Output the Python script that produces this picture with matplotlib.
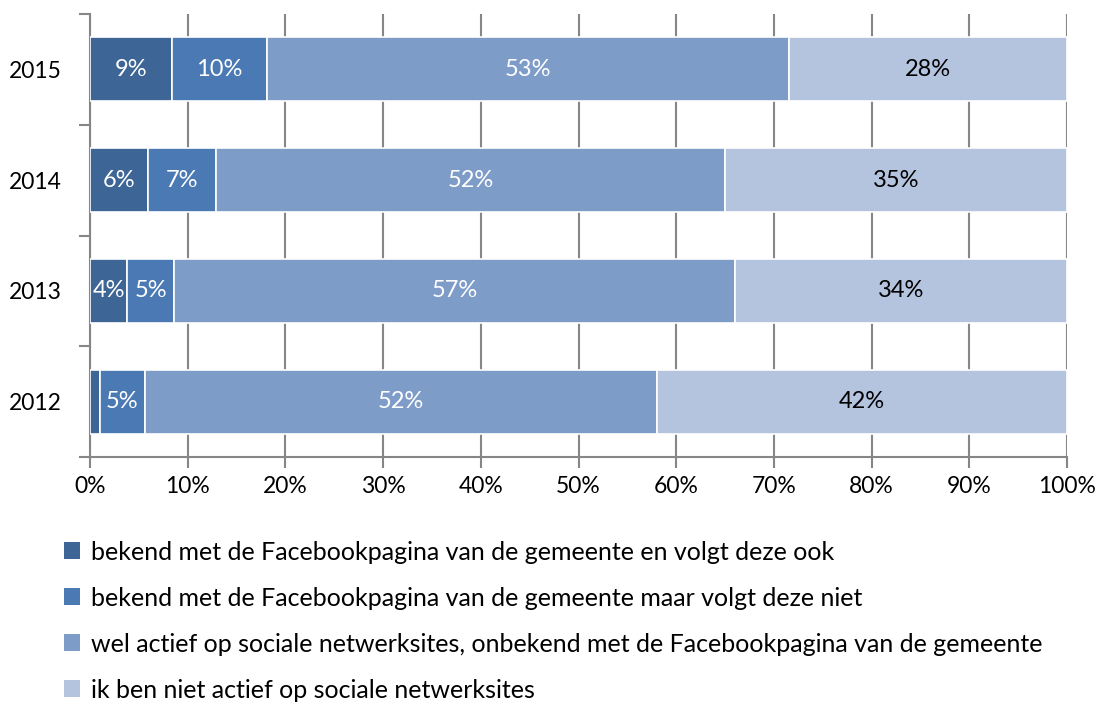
import matplotlib
matplotlib.use("Agg")
import matplotlib.pyplot as plt
from matplotlib.patches import Patch
import numpy as np

plt.rcParams['font.family'] = ['Lato', 'DejaVu Sans']

years = ["2012", "2013", "2014", "2015"]
series_names = [
    "bekend met de Facebookpagina van de gemeente en volgt deze ook",
    "bekend met de Facebookpagina van de gemeente maar volgt deze niet",
    "wel actief op sociale netwerksites, onbekend met de Facebookpagina van de gemeente",
    "ik ben niet actief op sociale netwerksites",
]
follows = [1.0, 3.8, 5.9, 8.4]
knows_not_follow = [4.6, 4.8, 7.0, 9.7]
active_unknown = [52.4, 57.4, 52.1, 53.4]
not_active = [42.0, 34.0, 35.0, 28.5]
labels = [
    ["", "4%", "6%", "9%"],
    ["5%", "5%", "7%", "10%"],
    ["52%", "57%", "52%", "53%"],
    ["42%", "34%", "35%", "28%"],
]
colors = ["#3D6595", "#4A79B3", "#7E9CC8", "#B4C3DE"]
text_colors = ["white", "white", "white", "black"]

fig = plt.figure(figsize=(11, 7.04), dpi=100)
ax = fig.add_axes([90/1100, 1-457/704, (1067-90)/1100, (457-14)/704])

data = [follows, knows_not_follow, active_unknown, not_active]
y = np.arange(len(years))
left = np.zeros(len(years))
for i, vals in enumerate(data):
    vals = np.array(vals)
    ax.barh(y, vals, left=left, height=0.58, color=colors[i],
            edgecolor="white", linewidth=1.2, zorder=3)
    for j in range(len(years)):
        if labels[i][j]:
            ax.text(left[j] + vals[j]/2, y[j], labels[i][j], ha="center", va="center",
                    color=text_colors[i], fontsize=17, zorder=4)
    left += vals

ax.set_xlim(0, 100)
ax.set_ylim(-0.5, len(years) - 0.5)
ax.set_xticks(np.arange(0, 101, 10))
ax.set_xticklabels([f"{v}%" for v in range(0, 101, 10)], fontsize=16.5)
ax.set_yticks(y)
ax.set_yticklabels(years, fontsize=16.5)
ax.set_yticks(np.arange(-0.5, len(years), 1), minor=True)
ax.tick_params(axis="y", which="major", length=0, pad=20)
ax.tick_params(axis="y", which="minor", length=8, width=1.5, color="#868686", direction="out")
ax.tick_params(axis="x", which="major", length=8, width=1.5, color="#868686", direction="out", pad=6)
ax.xaxis.grid(True, color="#868686", linewidth=1.5, zorder=0)
for s in ["top", "right"]:
    ax.spines[s].set_visible(False)
for s in ["left", "bottom"]:
    ax.spines[s].set_color("#868686")
    ax.spines[s].set_linewidth(1.5)

handles = [Patch(facecolor=c, edgecolor="none") for c in colors]
fig.legend(handles, series_names, loc="upper left", bbox_to_anchor=(51/1100, 1-528/704),
           frameon=False, fontsize=18, handlelength=0.65, handleheight=0.65,
           handletextpad=0.45, labelspacing=0.92, borderpad=0)

fig.savefig("out.png", dpi=100)
